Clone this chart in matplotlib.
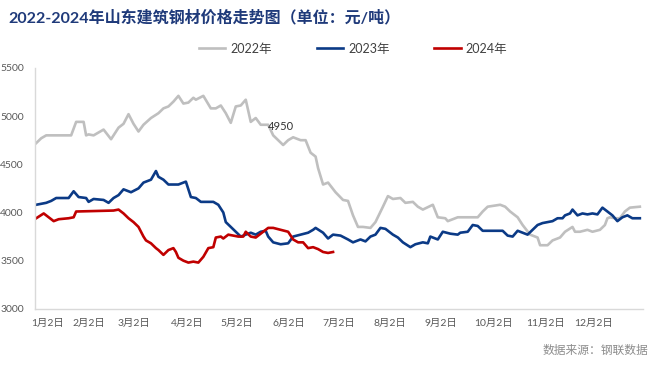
import matplotlib
matplotlib.use("Agg")
import matplotlib.pyplot as plt

plt.rcParams['font.family'] = ['Lato', 'Noto Sans CJK SC', 'DejaVu Sans']

title = "2022-2024年山东建筑钢材价格走势图（单位：元/吨）"
source = "数据来源：钢联数据"
labels = ["2022年", "2023年", "2024年"]
colors = ["#BFBFBF", "#0B3A86", "#C00000"]

tick_pos = [4.4, 21.2, 39.2, 60.4, 80.4, 101.2, 121.2, 141.6, 162.4, 183.2, 204, 223.6]
tick_labels = ["1月2日", "2月2日", "3月2日", "4月2日", "5月2日", "6月2日",
               "7月2日", "8月2日", "9月2日", "10月2日", "11月2日", "12月2日"]

# trading-day index and price (元/吨)
x_2022 = [0, 2, 4, 6, 14, 16, 19, 20, 21, 23, 27, 30, 33, 35, 37, 39, 41, 43, 46, 49,
          51, 53, 55, 57, 59, 61, 63, 64, 67, 70, 72, 74, 76, 78, 80, 82, 84, 86, 88, 90,
          93, 95, 99, 101, 103, 106, 108, 110, 112, 113, 115, 117, 120, 123, 125, 127, 129,
          131, 134, 136, 139, 141, 143, 146, 148, 151, 153, 155, 159, 161, 164, 165, 169,
          171, 175, 177, 179, 181, 186, 188, 190, 193, 195, 198, 201, 202, 205, 207, 210,
          212, 215, 216, 218, 221, 223, 226, 228, 229, 230, 232, 234, 236, 238, 242]
y_2022 = [4720, 4770, 4800, 4800, 4800, 4940, 4940, 4800, 4810, 4800, 4860, 4760, 4880,
          4920, 5020, 4920, 4840, 4910, 4980, 5030, 5080, 5100, 5150, 5210, 5130, 5140,
          5190, 5170, 5210, 5080, 5080, 5110, 5030, 4930, 5100, 5110, 5170, 4940, 4980,
          4910, 4910, 4800, 4700, 4750, 4780, 4750, 4750, 4620, 4580, 4460, 4290, 4310,
          4210, 4130, 4120, 3970, 3850, 3850, 3840, 3900, 4060, 4170, 4140, 4150, 4100,
          4110, 4060, 4030, 4080, 3950, 3940, 3910, 3950, 3950, 3950, 3950, 4010, 4060,
          4080, 4060, 4010, 3950, 3870, 3770, 3740, 3660, 3660, 3710, 3740, 3800, 3850,
          3800, 3800, 3820, 3800, 3820, 3870, 3940, 3950, 3940, 3940, 4010, 4050, 4060]

x_2023 = [0, 4, 6, 8, 13, 15, 17, 20, 21, 23, 27, 29, 31, 33, 35, 38, 41, 43, 46, 48,
          49, 51, 53, 57, 60, 62, 64, 66, 71, 73, 75, 76, 78, 80, 82, 84, 86, 88, 90, 92,
          93, 95, 98, 101, 103, 106, 109, 111, 112, 115, 117, 119, 122, 125, 127, 130, 132,
          134, 136, 138, 140, 143, 145, 147, 150, 152, 155, 157, 158, 161, 163, 166, 169,
          170, 173, 175, 177, 179, 182, 187, 189, 191, 193, 195, 197, 199, 201, 203, 207,
          209, 211, 212, 214, 215, 217, 219, 221, 223, 225, 227, 229, 231, 233, 235, 237,
          239, 242]
y_2023 = [4080, 4100, 4120, 4150, 4150, 4220, 4160, 4150, 4110, 4140, 4130, 4100, 4150,
          4180, 4240, 4210, 4250, 4310, 4340, 4430, 4370, 4340, 4290, 4290, 4320, 4160,
          4150, 4110, 4110, 4080, 4000, 3900, 3850, 3800, 3750, 3770, 3790, 3770, 3800,
          3810, 3750, 3690, 3670, 3680, 3750, 3770, 3790, 3820, 3840, 3790, 3730, 3770,
          3760, 3720, 3690, 3720, 3700, 3750, 3770, 3840, 3830, 3770, 3740, 3690, 3640,
          3670, 3690, 3680, 3750, 3720, 3800, 3780, 3770, 3790, 3800, 3870, 3860, 3810,
          3810, 3810, 3760, 3750, 3810, 3790, 3770, 3820, 3870, 3890, 3910, 3940, 3940,
          3970, 3990, 4030, 3970, 3990, 3980, 3990, 3980, 4050, 4010, 3970, 3910, 3950,
          3970, 3940, 3940]

x_2024 = [0, 3, 5, 7, 9, 13, 15, 16, 31, 33, 35, 37, 39, 41, 43, 44, 46, 48, 49, 51,
          53, 55, 56, 57, 59, 61, 63, 65, 67, 69, 71, 72, 74, 75, 77, 81, 83, 84, 86, 88,
          90, 93, 95, 98, 101, 103, 105, 107, 108, 109, 111, 113, 115, 117, 119]
y_2024 = [3940, 3990, 3950, 3910, 3930, 3940, 3950, 4010, 4020, 4030, 3990, 3940, 3900,
          3850, 3750, 3710, 3680, 3630, 3610, 3560, 3610, 3630, 3590, 3530, 3500, 3480,
          3490, 3480, 3540, 3630, 3640, 3740, 3750, 3730, 3770, 3750, 3750, 3800, 3750,
          3740, 3780, 3840, 3840, 3820, 3800, 3720, 3690, 3690, 3660, 3630, 3640, 3620,
          3590, 3580, 3590]

annot_text = "4950"
annot_x, annot_y = 93, 4890

fig = plt.figure(figsize=(6.6, 3.69), dpi=100)
ax = fig.add_axes([0.053, 0.163, 0.921, 0.653])

for xs, ys, lab, c in zip([x_2022, x_2023, x_2024], [y_2022, y_2023, y_2024], labels, colors):
    ax.plot(xs, ys, color=c, lw=1.9, label=lab, solid_joinstyle='round')

ax.set_xlim(-0.5, 243.2)
ax.set_ylim(3000, 5500)
ax.set_yticks([3000, 3500, 4000, 4500, 5000, 5500])
ax.set_xticks(tick_pos)
ax.set_xticklabels(tick_labels, fontsize=7.5, color="#595959")
ax.tick_params(axis='y', labelsize=7.5, labelcolor="#595959", length=0, pad=8)
ax.tick_params(axis='x', length=0, pad=7)
for side in ['top', 'right']:
    ax.spines[side].set_visible(False)
for side in ['left', 'bottom']:
    ax.spines[side].set_color("#D9D9D9")
    ax.spines[side].set_linewidth(1.0)

ax.text(annot_x, annot_y, annot_text, fontsize=8, color="#333333", ha='left', va='center')

leg = fig.legend(loc='center', bbox_to_anchor=(0.535, 0.868), ncol=3, frameon=False,
                 fontsize=9, handlelength=2.1, handletextpad=0.4, columnspacing=3.6)
for t in leg.get_texts():
    t.set_color("#404040")

fig.text(0.012, 0.951, title, fontsize=11.5, fontweight='bold', color="#1F3A7A",
         ha='left', va='center')
fig.text(0.983, 0.05, source, fontsize=8.5, color="#8C8C8C", ha='right', va='center')

fig.savefig("out.png", dpi=100)
